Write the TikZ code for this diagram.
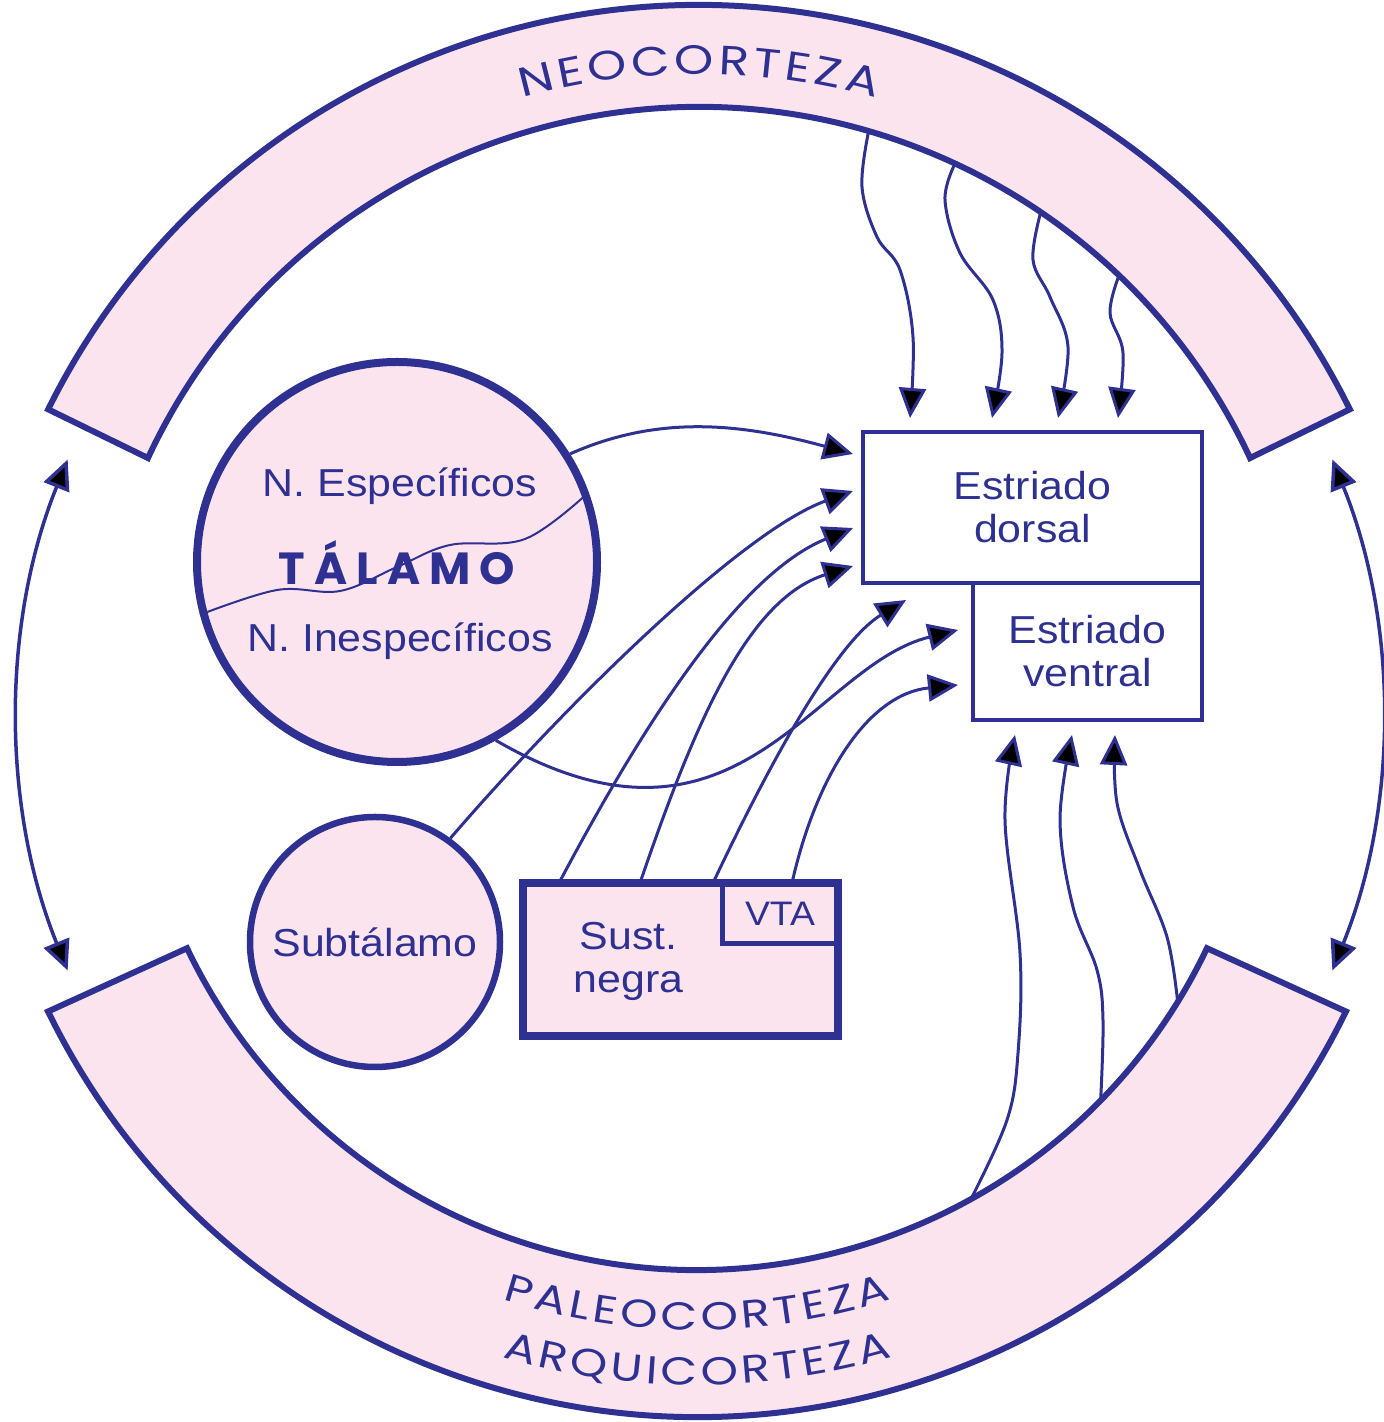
\documentclass[tikz,border=0pt]{standalone}
\usepackage{fontspec}
\setmainfont{Liberation Sans}[FakeStretch=1.1]
\newfontfamily\arcfont{Poppins}[FakeStretch=1.22,WordSpace=0.3]
\newfontfamily\talfont{Poppins}[LetterSpace=20]
\usetikzlibrary{arrows.meta}
\usetikzlibrary{decorations.text}
\usetikzlibrary{positioning}
\definecolor{ink}{RGB}{46,49,146}
\definecolor{rosa}{RGB}{252,228,238}

\begin{document}
\begin{tikzpicture}[x=1pt,y=1pt,
  band/.style={draw=ink,line width=6pt,fill=rosa},
  conn/.style={draw=ink,line width=3pt,-{Triangle[length=30pt,width=27pt]}},
  side/.style={draw=ink,line width=3.5pt,{Triangle[length=30pt,width=27pt]}-{Triangle[length=30pt,width=27pt]}},
  nuc/.style={circle,draw=ink,fill=rosa,inner sep=0pt,text=ink,font=\fontsize{39}{43}\selectfont},
  caja/.style={rectangle,draw=ink,line width=4pt,fill=white,inner sep=0pt,outer sep=0pt,align=center,text=ink,font=\fontsize{39}{43}\selectfont},
  lbl/.style={text=ink,align=center,font=\fontsize{39}{43}\selectfont},
  arctext/.style={decorate,decoration={text along path,text align=center,text color=ink,text={#1}}}]
\useasboundingbox (0,0) rectangle (1384,1422);

%Shape: Neocorteza band
\draw[band] ([shift={(699,691)}]26.3:726) arc[start angle=26.3,end angle=153.7,radius=726]
  -- ([shift={(699,707)}]155:608) arc[start angle=155,end angle=25,radius=608] -- cycle;
%Shape: Paleo / Arquicorteza band
\draw[band] ([shift={(697,727)}]206:722) arc[start angle=206,end angle=334,radius=722]
  -- ([shift={(697,717)}]334.5:565) arc[start angle=334.5,end angle=205.5,radius=565] -- cycle;

% curved titles
\path[arctext={|\arcfont\fontsize{41}{41}\selectfont|N E O C O R T E Z A}]
  ([shift={(699,691)}]115:657) arc[start angle=115,end angle=65,radius=657];
\path[arctext={|\arcfont\fontsize{39}{39}\selectfont|P A L E O C O R T E Z A}]
  ([shift={(697,727)}]240:635) arc[start angle=240,end angle=300,radius=635];
\path[arctext={|\arcfont\fontsize{39}{39}\selectfont|A R Q U I C O R T E Z A}]
  ([shift={(697,727)}]240:690) arc[start angle=240,end angle=300,radius=690];

% two-way arrows between the bands
\draw[side] ([shift={(700,707)}]158:682) arc[start angle=158,end angle=202,radius=682];
\draw[side] ([shift={(700,707)}]22:682) arc[start angle=22,end angle=-22,radius=682];

% nuclei
\node[nuc,line width=8pt,minimum size=400pt] (thal) at (397,860) {};
\node[lbl,anchor=base] (esp) at (400,925) {N. Específicos};
\node[lbl,anchor=base] (inesp) at (400,770) {N. Inespecíficos};
\node[text=ink,anchor=base,font=\talfont\bfseries\fontsize{45}{45}\selectfont] (tal) at (397,837) {TÁLAMO};
\draw[ink,line width=2pt] plot[smooth,tension=0.6] coordinates {(thal.195) (277,832) (340,831) (397,855) (450,877) (525,883) (thal.20)};

\node[nuc,line width=6.5pt,minimum size=250pt] (subt) at (375,480) {Subtálamo};

\node[caja,minimum width=339pt,minimum height=151pt] (dorsal) at (1032.5,914.5) {Estriado\\dorsal};
\node[caja,minimum width=229pt,minimum height=137pt,anchor=north east] (ventral) at (dorsal.south east) {Estriado\\ventral};

\node[caja,line width=8pt,fill=rosa,minimum width=315pt,minimum height=153pt] (sn) at (680.5,462.5) {};
\node[caja,line width=5pt,fill=none,minimum width=116pt,minimum height=61pt,anchor=north east,font=\fontsize{34}{34}\selectfont] (vta) at (sn.north east) {VTA};
\node[lbl] (snlbl) at ([shift={(-52,-2)}]sn.center) {Sust.\\negra};

% ends of the connectors
\coordinate (n1) at ([shift={(699,707)}]73.8:608);
\coordinate (n2) at ([shift={(699,707)}]65.1:608);
\coordinate (n3) at ([shift={(699,707)}]55.8:608);
\coordinate (n4) at ([shift={(699,707)}]46.3:608);
\coordinate (t1) at ([shift={(47,14)}]dorsal.north west);
\coordinate (t2) at ([shift={(129,14)}]dorsal.north west);
\coordinate (t3) at ([shift={(195,14)}]dorsal.north west);
\coordinate (t4) at ([shift={(255,14)}]dorsal.north west);
\coordinate (p1) at ([shift={(697,717)}]-61:565);
\coordinate (p2) at ([shift={(697,717)}]-44.4:565);
\coordinate (p3) at ([shift={(697,717)}]-31.7:565);
\coordinate (v1) at ([shift={(42,-15)}]ventral.south west);
\coordinate (v2) at ([shift={(99,-15)}]ventral.south west);
\coordinate (v3) at ([shift={(142,-15)}]ventral.south west);
\coordinate (da) at ([shift={(-10,-22)}]dorsal.north west);
\coordinate (db) at ([shift={(-10,-59)}]dorsal.north west);
\coordinate (dc) at ([shift={(-10,-96)}]dorsal.north west);
\coordinate (dd) at ([shift={(-10,-134)}]dorsal.north west);
\coordinate (de) at ([shift={(43,-17)}]dorsal.south west);
\coordinate (vf) at ([shift={(-15,-47)}]ventral.north west);
\coordinate (vg) at ([shift={(-15,-102)}]ventral.north west);

% neocorteza -> estriado dorsal
\draw[conn] plot[smooth,tension=0.6] coordinates {(n1) (862,1235) (877,1185) (900,1152) (913,1085) (t1)};
\draw[conn] plot[smooth,tension=0.6] coordinates {(n2) (945,1222) (960,1169) (993,1122) (1002,1069) (t2)};
\draw[conn] plot[smooth,tension=0.6] coordinates {(n3) (1033,1162) (1050,1125) (1068,1075) (t3)};
\draw[conn] plot[smooth,tension=0.6] coordinates {(n4) (1110,1109) (1123,1069) (t4)};

% paleo/arquicorteza -> estriado ventral
\draw[conn] plot[smooth,tension=0.6] coordinates {(p1) (1007,302) (1018,369) (1020,469) (1005,602) (v1)};
\draw[conn] plot[smooth,tension=0.6] coordinates {(p2) (1103,402) (1097,452) (1073,515) (1060,602) (v2)};
\draw[conn] plot[smooth,tension=0.6] coordinates {(p3) (1167,485) (1140,552) (1117,619) (v3)};

% talamo, subtalamo, sust. negra, VTA -> estriado
\draw[conn] (thal.32) .. controls +(90,40) and +(-110,30) .. (da);
\draw[conn] (subt.54) .. controls +(111,129) and +(-113,-41) .. (db);
\draw[conn] ([xshift=36pt]sn.north west) .. controls +(89,168) and +(-111,-45) .. (dc);
\draw[conn] ([xshift=117pt]sn.north west) .. controls +(55,161) and +(-105,-33) .. (dd);
\draw[conn] ([xshift=190pt]sn.north west) .. controls +(77,163) and +(-60,-36) .. (de);
\draw[conn] (thal.299) .. controls +(242,-140) and +(-146,-36) .. (vf);
\draw[conn] ([xshift=70pt]vta.north west) .. controls +(24,107) and +(-90,-9) .. (vg);

\end{tikzpicture}
\end{document}
